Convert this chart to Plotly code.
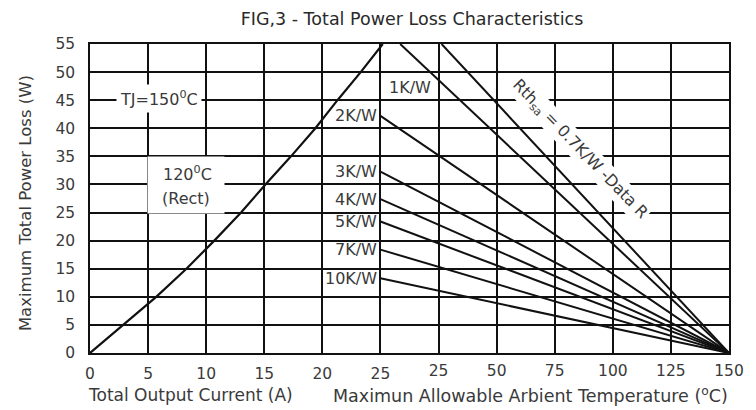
import plotly.graph_objects as go

# ---- data ----
# Left half: 120 degC (Rect) curve, power loss vs total output current
current_a = [0, 2.9, 5.7, 8.3, 10.7, 13.0, 15.1, 17.3, 19.4, 21.3, 23.3, 25.2]
power_rect_w = [0, 5, 10, 15, 20, 25, 30, 35, 40, 45, 50, 55]

# Right half: derating lines vs ambient temperature (start point -> 150 degC, 0 W)
rth_labels = ["0.7K/W", "1K/W", "2K/W", "3K/W", "4K/W", "5K/W", "7K/W", "10K/W"]
rth_start_temp = [26.3, 8.5, 0, 0, 0, 0, 0, 0]
rth_start_power = [55, 55, 42.2, 32.3, 27.4, 23.4, 18.4, 13.3]
end_temp = 150
end_power = 0

current_ticks = [0, 5, 10, 15, 20, 25]
temp_ticks = [25, 50, 75, 100, 125, 150]
power_ticks = [0, 5, 10, 15, 20, 25, 30, 35, 40, 45, 50, 55]

FONT = "DejaVu Sans"
TXT = "#3a3a3a"
LINE = "#111111"

fig = go.Figure()

fig.add_trace(go.Scatter(x=current_a, y=power_rect_w, mode="lines",
                         line=dict(color=LINE, width=2.2), xaxis="x", yaxis="y",
                         showlegend=False, hoverinfo="skip"))

for lab, t0, p0 in zip(rth_labels, rth_start_temp, rth_start_power):
    fig.add_trace(go.Scatter(x=[t0, end_temp], y=[p0, end_power], mode="lines",
                             line=dict(color=LINE, width=2.0), xaxis="x2", yaxis="y",
                             showlegend=False, hoverinfo="skip", name=lab))

annotations = []
for lab, t0, p0 in zip(rth_labels, rth_start_temp, rth_start_power):
    if t0 == 0:
        annotations.append(dict(x=t0, y=p0, xref="x2", yref="y", text=lab,
                                showarrow=False, xanchor="right", yanchor="middle",
                                xshift=-1, font=dict(family=FONT, size=16, color=TXT)))
annotations.append(dict(x=12.7, y=47.2, xref="x2", yref="y", text="1K/W",
                        showarrow=False, xanchor="center",
                        font=dict(family=FONT, size=16, color=TXT)))
annotations.append(dict(x=86, y=36.3, xref="x2", yref="y",
                        text="Rth<sub>sa</sub> = 0.7K/W -Data R", textangle=46,
                        showarrow=False, bgcolor="white", borderpad=1, xanchor="center",
                        font=dict(family=FONT, size=16, color=TXT)))
annotations.append(dict(x=5.9, y=45.3, xref="x", yref="y", text="TJ=150<sup>0</sup>C",
                        showarrow=False, bgcolor="white", borderpad=3, xanchor="center",
                        font=dict(family=FONT, size=16, color=TXT)))
# white box behind the "120 C (Rect)" label, then the two text lines
annotations.append(dict(x=8.3, y=29.9, xref="x", yref="y", text=" ",
                        showarrow=False, bgcolor="white", borderpad=0, width=76, height=56,
                        xanchor="center", yanchor="middle",
                        font=dict(family=FONT, size=16, color=TXT)))
annotations.append(dict(x=8.4, y=32.0, xref="x", yref="y", text="120<sup>0</sup>C",
                        showarrow=False, xanchor="center", yanchor="middle",
                        font=dict(family=FONT, size=16, color=TXT)))
annotations.append(dict(x=8.3, y=27.5, xref="x", yref="y", text="(Rect)",
                        showarrow=False, xanchor="center", yanchor="middle",
                        font=dict(family=FONT, size=16, color=TXT)))
# axis titles
annotations.append(dict(x=(192 - 90) / 650, y=(353 - 395) / 309, xref="paper", yref="paper",
                        text="Total Output Current (A)", showarrow=False,
                        xanchor="center", yanchor="middle",
                        font=dict(family=FONT, size=17, color=TXT)))
annotations.append(dict(x=(538 - 90) / 650, y=(353 - 395) / 309, xref="paper", yref="paper",
                        text="Maximun Allowable Arbient Temperature (<sup>o</sup>C)", showarrow=False,
                        xanchor="center", yanchor="middle",
                        font=dict(family=FONT, size=17.5, color=TXT)))
annotations.append(dict(x=(24 - 90) / 650, y=(353 - 203) / 309, xref="paper", yref="paper",
                        text="Maximum Total Power Loss (W)", textangle=-90, showarrow=False,
                        xanchor="center", yanchor="middle",
                        font=dict(family=FONT, size=16.5, color=TXT)))

fig.update_layout(
    width=756, height=410,
    margin=dict(l=90, r=16, t=44, b=57),
    paper_bgcolor="white", plot_bgcolor="white",
    title=dict(text="FIG,3 - Total Power Loss Characteristics", x=412 / 756, xanchor="center",
               y=1 - 19 / 410, yanchor="middle", font=dict(family=FONT, size=17.5, color="#2a2a2a")),
    xaxis=dict(range=[0, 55], tickvals=current_ticks, ticktext=[str(v) for v in current_ticks],
               showgrid=True, gridcolor=LINE, gridwidth=1.5, zeroline=False, showline=True,
               mirror=True, linecolor=LINE, linewidth=1.5, ticks="", ticklabelstandoff=6,
               tickfont=dict(family=FONT, size=15.5, color=TXT)),
    xaxis2=dict(range=[-125, 150], overlaying="x", anchor="y", side="bottom",
                tickvals=temp_ticks, ticktext=[str(v) for v in temp_ticks], showgrid=True,
                gridcolor=LINE, gridwidth=1.5, layer="below traces",
                zeroline=False, showline=False, ticks="", ticklabelstandoff=6,
                tickfont=dict(family=FONT, size=15.5, color=TXT)),
    yaxis=dict(range=[0, 55], tickvals=power_ticks, showgrid=True, gridcolor=LINE,
               gridwidth=1.5, zeroline=False, showline=True, mirror=True, linecolor=LINE,
               linewidth=1.5, ticks="", ticklabelstandoff=10,
               tickfont=dict(family=FONT, size=15.5, color=TXT)),
    annotations=annotations,
)

fig.write_html("out.html")
